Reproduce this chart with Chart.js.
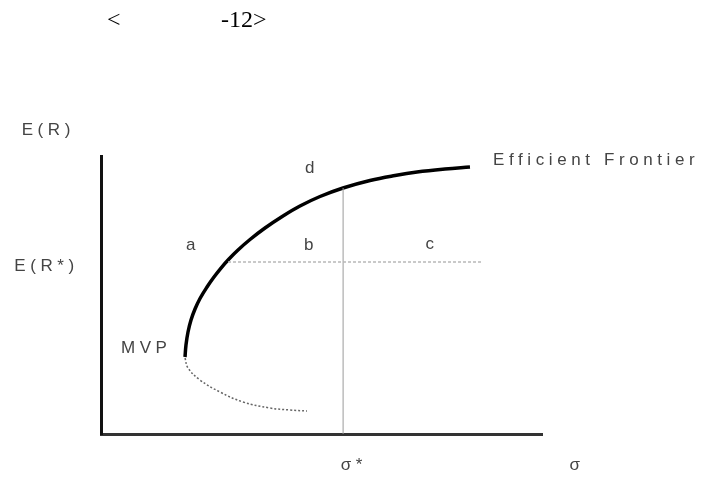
<!DOCTYPE html>
<html>
<head>
<meta charset="utf-8">
<script src="https://cdn.jsdelivr.net/npm/chart.js@4/dist/chart.umd.min.js"></script>
<style>
  html, body { margin: 0; padding: 0; background: #fff; }
  #wrap { width: 715px; height: 495px; position: relative; }
</style>
</head>
<body>
<div id="wrap"><canvas id="chart" width="715" height="495"></canvas></div>
<script>
// efficient frontier (upper branch), sigma vs E(R)
var frontierX = [19.05, 19.27, 19.73, 20.41, 21.32, 22.45, 24.04, 25.62, 27.21, 29.02, 31.07, 33.79, 37.19, 41.27, 45.12, 49.66, 54.88, 61.00, 66.67, 71.66, 78.00, 83.67];
var frontierY = [27.70, 32.01, 36.69, 41.01, 44.96, 48.74, 52.88, 56.47, 59.71, 62.95, 66.19, 69.96, 74.10, 78.42, 82.01, 85.43, 88.49, 91.19, 92.99, 94.24, 95.32, 96.04];
// inefficient lower branch
var lowerX = [19.05, 19.73, 22.45, 26.98, 32.20, 38.32, 42.86, 46.71];
var lowerY = [27.34, 23.74, 19.42, 15.11, 11.51, 9.35, 8.63, 8.27];
// E(R*) level and sigma*
var targetReturn = 61.87;
var targetReturnFrom = 28.8;
var targetReturnTo = 86.4;
var sigmaStar = 54.9;
var sigmaStarTop = 88.49;

var labels = [
  { text: "E(R)", x: -12.4, y: 109.4 },
  { text: "E(R*)", x: -12.8, y: 60.4 },
  { text: "a", x: 20.4, y: 68.0 },
  { text: "b", x: 47.2, y: 68.0 },
  { text: "c", x: 74.6, y: 68.3 },
  { text: "d", x: 47.4, y: 95.7 },
  { text: "MVP", x: 9.8, y: 30.9 },
  { text: "σ*", x: 56.9, y: -11.2 },
  { text: "σ", x: 107.5, y: -11.2 }
];
var frontierLabel = { text: "Efficient Frontier", x: 88.9, y: 98.6 };

function toPoints(xs, ys) {
  var pts = [];
  for (var i = 0; i < xs.length; i++) {
    pts.push({ x: xs[i], y: ys[i] });
  }
  return pts;
}

var textPlugin = {
  id: "diagramText",
  afterDraw: function (chart) {
    var ctx = chart.ctx;
    var xs = chart.scales.x;
    var ys = chart.scales.y;
    ctx.save();
    ctx.textBaseline = "middle";

    // title (the middle of it is blank in the source)
    ctx.fillStyle = "#000";
    ctx.font = "24px 'Liberation Serif', 'Times New Roman', serif";
    ctx.textAlign = "left";
    ctx.fillText("<", 107, 21);
    ctx.fillText("-12>", 221, 21);

    ctx.fillStyle = "#444";
    ctx.font = "17px 'Liberation Sans', Arial, sans-serif";
    ctx.letterSpacing = "4.6px";
    ctx.textAlign = "center";
    for (var i = 0; i < labels.length; i++) {
      var l = labels[i];
      ctx.fillText(l.text, xs.getPixelForValue(l.x) + 2, ys.getPixelForValue(l.y));
    }
    ctx.textAlign = "left";
    ctx.fillText(frontierLabel.text, xs.getPixelForValue(frontierLabel.x), ys.getPixelForValue(frontierLabel.y));
    ctx.restore();
  }
};

var noSize = function (scale) {
  if (scale.isHorizontal()) { scale.height = 0; } else { scale.width = 0; }
};

new Chart(document.getElementById("chart"), {
  type: "scatter",
  data: {
    datasets: [
      {
        label: "E(R*)",
        data: [{ x: targetReturnFrom, y: targetReturn }, { x: targetReturnTo, y: targetReturn }],
        showLine: true,
        borderColor: "#b8b8b8",
        borderWidth: 1.5,
        borderDash: [3, 2],
        pointRadius: 0
      },
      {
        label: "sigma*",
        data: [{ x: sigmaStar, y: 0 }, { x: sigmaStar, y: sigmaStarTop }],
        showLine: true,
        borderColor: "#9a9a9a",
        borderWidth: 1,
        pointRadius: 0
      },
      {
        label: "lower",
        data: toPoints(lowerX, lowerY),
        showLine: true,
        borderColor: "#666",
        borderWidth: 1.5,
        borderDash: [2, 2],
        tension: 0.4,
        pointRadius: 0
      },
      {
        label: "Efficient Frontier",
        data: toPoints(frontierX, frontierY),
        showLine: true,
        borderColor: "#000",
        borderWidth: 3.5,
        tension: 0.4,
        pointRadius: 0
      }
    ]
  },
  options: {
    responsive: false,
    animation: false,
    events: [],
    layout: { padding: { left: 101, right: 173, top: 156, bottom: 61 } },
    plugins: { legend: { display: false }, tooltip: { enabled: false }, title: { display: false } },
    scales: {
      x: {
        type: "linear", min: 0, max: 100,
        grid: { display: false },
        ticks: { display: false },
        border: { display: true, color: "#333", width: 3 },
        afterFit: noSize
      },
      y: {
        type: "linear", min: 0, max: 100,
        grid: { display: false },
        ticks: { display: false },
        border: { display: true, color: "#111", width: 3 },
        afterFit: noSize
      }
    }
  },
  plugins: [textPlugin]
});
</script>
</body>
</html>
